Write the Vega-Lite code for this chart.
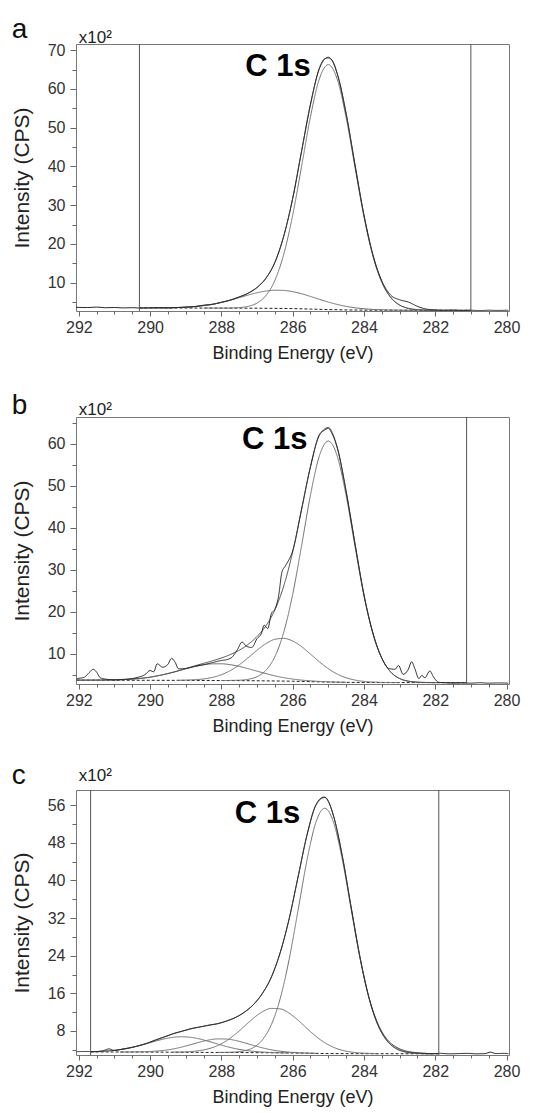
{
"$schema": "https://vega.github.io/schema/vega-lite/v6.json",
"background": "white",
"padding": {"left": 10, "top": 15, "right": 10, "bottom": 5},
"bounds": "flush",
"spacing": 106,
"config": {
 "font": "Liberation Sans",
 "view": {"stroke": "#777", "strokeWidth": 1},
 "axis": {"labelColor": "#333", "titleColor": "#222", "tickColor": "#666", "domain": false, "grid": false, "labelFont": "Liberation Sans", "titleFont": "Liberation Sans", "titleFontWeight": "normal", "labelFontSize": 16, "titleFontSize": 18}
},
"datasets": {
"r": [{"p":"a","x":290.3},{"p":"a","x":281.0},{"p":"b","x":281.12},{"p":"c","x":291.67},{"p":"c","x":281.9}],
"d": [
{"p":"a","s":"bg","x":290.3,"y":3.51},{"p":"a","s":"bg","x":290,"y":3.5},{"p":"a","s":"bg","x":289,"y":3.47},{"p":"a","s":"bg","x":288,"y":3.45},{"p":"a","s":"bg","x":287,"y":3.42},{"p":"a","s":"bg","x":286.5,"y":3.38},{"p":"a","s":"bg","x":286,"y":3.32},{"p":"a","s":"bg","x":285.5,"y":3.2},{"p":"a","s":"bg","x":285,"y":3.07},{"p":"a","s":"bg","x":284.5,"y":2.98},{"p":"a","s":"bg","x":284,"y":2.93},{"p":"a","s":"bg","x":283,"y":2.9},{"p":"a","s":"bg","x":282,"y":2.88},{"p":"a","s":"bg","x":281,"y":2.87},
{"p":"a","s":"c1","x":288.5,"y":3.46},{"p":"a","s":"c1","x":288,"y":3.45},{"p":"a","s":"c1","x":287.75,"y":3.48},{"p":"a","s":"c1","x":287.5,"y":3.58},{"p":"a","s":"c1","x":287.25,"y":3.9},{"p":"a","s":"c1","x":287,"y":4.75},{"p":"a","s":"c1","x":286.75,"y":6.69},{"p":"a","s":"c1","x":286.5,"y":10.6},{"p":"a","s":"c1","x":286.25,"y":17.35},{"p":"a","s":"c1","x":286,"y":27.41},{"p":"a","s":"c1","x":285.75,"y":40.01},{"p":"a","s":"c1","x":285.5,"y":52.86},{"p":"a","s":"c1","x":285.25,"y":62.63},{"p":"a","s":"c1","x":285,"y":66.27},{"p":"a","s":"c1","x":284.75,"y":62.52},{"p":"a","s":"c1","x":284.5,"y":52.64},{"p":"a","s":"c1","x":284.25,"y":39.69},{"p":"a","s":"c1","x":284,"y":27.02},{"p":"a","s":"c1","x":283.75,"y":16.92},{"p":"a","s":"c1","x":283.5,"y":10.13},{"p":"a","s":"c1","x":283.25,"y":6.19},{"p":"a","s":"c1","x":283,"y":4.23},{"p":"a","s":"c1","x":282.75,"y":3.37},{"p":"a","s":"c1","x":282.5,"y":3.04},{"p":"a","s":"c1","x":282.25,"y":2.92},{"p":"a","s":"c1","x":282,"y":2.88},
{"p":"a","s":"c2","x":290,"y":3.52},{"p":"a","s":"c2","x":289.5,"y":3.54},{"p":"a","s":"c2","x":289,"y":3.69},{"p":"a","s":"c2","x":288.75,"y":3.84},{"p":"a","s":"c2","x":288.5,"y":4.1},{"p":"a","s":"c2","x":288.25,"y":4.45},{"p":"a","s":"c2","x":288,"y":4.92},{"p":"a","s":"c2","x":287.75,"y":5.5},{"p":"a","s":"c2","x":287.5,"y":6.15},{"p":"a","s":"c2","x":287.25,"y":6.81},{"p":"a","s":"c2","x":287,"y":7.41},{"p":"a","s":"c2","x":286.75,"y":7.85},{"p":"a","s":"c2","x":286.5,"y":8.06},{"p":"a","s":"c2","x":286.25,"y":8.0},{"p":"a","s":"c2","x":286,"y":7.69},{"p":"a","s":"c2","x":285.75,"y":7.15},{"p":"a","s":"c2","x":285.5,"y":6.46},{"p":"a","s":"c2","x":285.25,"y":5.71},{"p":"a","s":"c2","x":285,"y":5.0},{"p":"a","s":"c2","x":284.75,"y":4.39},{"p":"a","s":"c2","x":284.5,"y":3.89},{"p":"a","s":"c2","x":284.25,"y":3.53},{"p":"a","s":"c2","x":284,"y":3.28},{"p":"a","s":"c2","x":283.75,"y":3.11},{"p":"a","s":"c2","x":283.5,"y":3.01},{"p":"a","s":"c2","x":283,"y":2.92},{"p":"a","s":"c2","x":282.5,"y":2.89},
{"p":"a","s":"env","x":290.3,"y":3.52},{"p":"a","s":"env","x":290,"y":3.52},{"p":"a","s":"env","x":289.5,"y":3.54},{"p":"a","s":"env","x":289,"y":3.69},{"p":"a","s":"env","x":288.75,"y":3.84},{"p":"a","s":"env","x":288.5,"y":4.1},{"p":"a","s":"env","x":288.25,"y":4.45},{"p":"a","s":"env","x":288,"y":4.92},{"p":"a","s":"env","x":287.75,"y":5.54},{"p":"a","s":"env","x":287.5,"y":6.3},{"p":"a","s":"env","x":287.25,"y":7.29},{"p":"a","s":"env","x":287,"y":8.74},{"p":"a","s":"env","x":286.75,"y":11.14},{"p":"a","s":"env","x":286.5,"y":15.28},{"p":"a","s":"env","x":286.25,"y":22.0},{"p":"a","s":"env","x":286,"y":31.78},{"p":"a","s":"env","x":285.75,"y":43.89},{"p":"a","s":"env","x":285.5,"y":56.12},{"p":"a","s":"env","x":285.25,"y":65.21},{"p":"a","s":"env","x":285,"y":68.2},{"p":"a","s":"env","x":284.75,"y":63.89},{"p":"a","s":"env","x":284.5,"y":53.55},{"p":"a","s":"env","x":284.25,"y":40.27},{"p":"a","s":"env","x":284,"y":27.37},{"p":"a","s":"env","x":283.75,"y":17.11},{"p":"a","s":"env","x":283.5,"y":10.23},{"p":"a","s":"env","x":283.25,"y":6.24},{"p":"a","s":"env","x":283,"y":4.25},{"p":"a","s":"env","x":282.75,"y":3.37},{"p":"a","s":"env","x":282.5,"y":3.04},{"p":"a","s":"env","x":282.25,"y":2.92},{"p":"a","s":"env","x":282,"y":2.88},{"p":"a","s":"env","x":281.5,"y":2.87},{"p":"a","s":"env","x":281,"y":2.87},
{"p":"a","s":"raw","x":292.08,"y":3.65},{"p":"a","s":"raw","x":291.75,"y":3.6},{"p":"a","s":"raw","x":291.5,"y":3.7},{"p":"a","s":"raw","x":291.25,"y":3.55},{"p":"a","s":"raw","x":291,"y":3.6},{"p":"a","s":"raw","x":290.75,"y":3.5},{"p":"a","s":"raw","x":290.5,"y":3.55},{"p":"a","s":"raw","x":290.25,"y":3.45},{"p":"a","s":"raw","x":290,"y":3.5},{"p":"a","s":"raw","x":289.75,"y":3.55},{"p":"a","s":"raw","x":289.5,"y":3.5},{"p":"a","s":"raw","x":289.25,"y":3.6},{"p":"a","s":"raw","x":289,"y":3.7},{"p":"a","s":"raw","x":288.75,"y":3.85},{"p":"a","s":"raw","x":288.5,"y":4.2},{"p":"a","s":"raw","x":288.25,"y":4.4},{"p":"a","s":"raw","x":288,"y":4.95},{"p":"a","s":"raw","x":287.75,"y":5.5},{"p":"a","s":"raw","x":287.5,"y":6.35},{"p":"a","s":"raw","x":287.25,"y":7.3},{"p":"a","s":"raw","x":287,"y":8.8},{"p":"a","s":"raw","x":286.75,"y":11.2},{"p":"a","s":"raw","x":286.5,"y":15.2},{"p":"a","s":"raw","x":286.25,"y":22.1},{"p":"a","s":"raw","x":286,"y":31.7},{"p":"a","s":"raw","x":285.75,"y":44.0},{"p":"a","s":"raw","x":285.5,"y":56.0},{"p":"a","s":"raw","x":285.25,"y":65.4},{"p":"a","s":"raw","x":285.1,"y":67.8},{"p":"a","s":"raw","x":285,"y":68.0},{"p":"a","s":"raw","x":284.9,"y":67.5},{"p":"a","s":"raw","x":284.75,"y":64.0},{"p":"a","s":"raw","x":284.5,"y":53.7},{"p":"a","s":"raw","x":284.25,"y":40.4},{"p":"a","s":"raw","x":284,"y":27.5},{"p":"a","s":"raw","x":283.75,"y":17.3},{"p":"a","s":"raw","x":283.5,"y":10.5},{"p":"a","s":"raw","x":283.25,"y":6.8},{"p":"a","s":"raw","x":283,"y":5.6},{"p":"a","s":"raw","x":282.75,"y":5.0},{"p":"a","s":"raw","x":282.5,"y":3.9},{"p":"a","s":"raw","x":282.25,"y":3.2},{"p":"a","s":"raw","x":282,"y":3.0},{"p":"a","s":"raw","x":281.75,"y":2.9},{"p":"a","s":"raw","x":281.5,"y":2.95},{"p":"a","s":"raw","x":281.25,"y":2.85},{"p":"a","s":"raw","x":281,"y":2.9},{"p":"a","s":"raw","x":280.75,"y":2.8},{"p":"a","s":"raw","x":280.5,"y":2.9},{"p":"a","s":"raw","x":280.25,"y":2.85},{"p":"a","s":"raw","x":279.95,"y":2.9},

{"p":"b","s":"bg","x":292.06,"y":3.72},{"p":"b","s":"bg","x":291,"y":3.7},{"p":"b","s":"bg","x":290,"y":3.68},{"p":"b","s":"bg","x":289,"y":3.66},{"p":"b","s":"bg","x":288,"y":3.63},{"p":"b","s":"bg","x":287,"y":3.57},{"p":"b","s":"bg","x":286.5,"y":3.52},{"p":"b","s":"bg","x":286,"y":3.46},{"p":"b","s":"bg","x":285.5,"y":3.37},{"p":"b","s":"bg","x":285,"y":3.27},{"p":"b","s":"bg","x":284.5,"y":3.2},{"p":"b","s":"bg","x":284,"y":3.16},{"p":"b","s":"bg","x":283,"y":3.14},{"p":"b","s":"bg","x":282,"y":3.13},{"p":"b","s":"bg","x":281.12,"y":3.12},
{"p":"b","s":"c1","x":288,"y":3.63},{"p":"b","s":"c1","x":287.75,"y":3.65},{"p":"b","s":"c1","x":287.5,"y":3.7},{"p":"b","s":"c1","x":287.25,"y":3.92},{"p":"b","s":"c1","x":287,"y":4.54},{"p":"b","s":"c1","x":286.75,"y":6.07},{"p":"b","s":"c1","x":286.5,"y":9.3},{"p":"b","s":"c1","x":286.25,"y":15.15},{"p":"b","s":"c1","x":286,"y":24.15},{"p":"b","s":"c1","x":285.75,"y":35.75},{"p":"b","s":"c1","x":285.5,"y":47.84},{"p":"b","s":"c1","x":285.25,"y":57.17},{"p":"b","s":"c1","x":285,"y":60.67},{"p":"b","s":"c1","x":284.75,"y":57.08},{"p":"b","s":"c1","x":284.5,"y":47.67},{"p":"b","s":"c1","x":284.25,"y":35.51},{"p":"b","s":"c1","x":284,"y":23.85},{"p":"b","s":"c1","x":283.75,"y":14.82},{"p":"b","s":"c1","x":283.5,"y":8.93},{"p":"b","s":"c1","x":283.25,"y":5.67},{"p":"b","s":"c1","x":283,"y":4.11},{"p":"b","s":"c1","x":282.75,"y":3.47},{"p":"b","s":"c1","x":282.5,"y":3.23},{"p":"b","s":"c1","x":282.25,"y":3.16},{"p":"b","s":"c1","x":282,"y":3.13},
{"p":"b","s":"c2","x":289.25,"y":3.67},{"p":"b","s":"c2","x":289,"y":3.73},{"p":"b","s":"c2","x":288.75,"y":3.82},{"p":"b","s":"c2","x":288.5,"y":4.01},{"p":"b","s":"c2","x":288.25,"y":4.37},{"p":"b","s":"c2","x":288,"y":5.01},{"p":"b","s":"c2","x":287.75,"y":6.0},{"p":"b","s":"c2","x":287.5,"y":7.36},{"p":"b","s":"c2","x":287.25,"y":9.05},{"p":"b","s":"c2","x":287,"y":10.84},{"p":"b","s":"c2","x":286.75,"y":12.42},{"p":"b","s":"c2","x":286.5,"y":13.44},{"p":"b","s":"c2","x":286.25,"y":13.67},{"p":"b","s":"c2","x":286,"y":13.04},{"p":"b","s":"c2","x":285.75,"y":11.69},{"p":"b","s":"c2","x":285.5,"y":9.92},{"p":"b","s":"c2","x":285.25,"y":8.08},{"p":"b","s":"c2","x":285,"y":6.44},{"p":"b","s":"c2","x":284.75,"y":5.16},{"p":"b","s":"c2","x":284.5,"y":4.28},{"p":"b","s":"c2","x":284.25,"y":3.74},{"p":"b","s":"c2","x":284,"y":3.42},{"p":"b","s":"c2","x":283.75,"y":3.27},{"p":"b","s":"c2","x":283.5,"y":3.19},{"p":"b","s":"c2","x":283,"y":3.14},
{"p":"b","s":"c3","x":292.06,"y":3.72},{"p":"b","s":"c3","x":291.5,"y":3.73},{"p":"b","s":"c3","x":291,"y":3.78},{"p":"b","s":"c3","x":290.5,"y":3.97},{"p":"b","s":"c3","x":290.25,"y":4.16},{"p":"b","s":"c3","x":290,"y":4.43},{"p":"b","s":"c3","x":289.75,"y":4.82},{"p":"b","s":"c3","x":289.5,"y":5.29},{"p":"b","s":"c3","x":289.25,"y":5.84},{"p":"b","s":"c3","x":289,"y":6.41},{"p":"b","s":"c3","x":288.75,"y":6.95},{"p":"b","s":"c3","x":288.5,"y":7.36},{"p":"b","s":"c3","x":288.25,"y":7.6},{"p":"b","s":"c3","x":288,"y":7.61},{"p":"b","s":"c3","x":287.75,"y":7.4},{"p":"b","s":"c3","x":287.5,"y":6.99},{"p":"b","s":"c3","x":287.25,"y":6.45},{"p":"b","s":"c3","x":287,"y":5.86},{"p":"b","s":"c3","x":286.75,"y":5.27},{"p":"b","s":"c3","x":286.5,"y":4.74},{"p":"b","s":"c3","x":286.25,"y":4.31},{"p":"b","s":"c3","x":286,"y":3.98},{"p":"b","s":"c3","x":285.75,"y":3.73},{"p":"b","s":"c3","x":285.5,"y":3.55},{"p":"b","s":"c3","x":285.25,"y":3.41},{"p":"b","s":"c3","x":285,"y":3.32},{"p":"b","s":"c3","x":284.5,"y":3.2},
{"p":"b","s":"env","x":292.06,"y":3.72},{"p":"b","s":"env","x":291.5,"y":3.73},{"p":"b","s":"env","x":291,"y":3.78},{"p":"b","s":"env","x":290.5,"y":3.97},{"p":"b","s":"env","x":290.25,"y":4.16},{"p":"b","s":"env","x":290,"y":4.43},{"p":"b","s":"env","x":289.75,"y":4.82},{"p":"b","s":"env","x":289.5,"y":5.29},{"p":"b","s":"env","x":289.25,"y":5.84},{"p":"b","s":"env","x":289,"y":6.48},{"p":"b","s":"env","x":288.75,"y":7.11},{"p":"b","s":"env","x":288.5,"y":7.72},{"p":"b","s":"env","x":288.25,"y":8.33},{"p":"b","s":"env","x":288,"y":8.99},{"p":"b","s":"env","x":287.75,"y":9.81},{"p":"b","s":"env","x":287.5,"y":10.85},{"p":"b","s":"env","x":287.25,"y":12.24},{"p":"b","s":"env","x":287,"y":14.1},{"p":"b","s":"env","x":286.75,"y":16.66},{"p":"b","s":"env","x":286.5,"y":20.44},{"p":"b","s":"env","x":286.25,"y":26.15},{"p":"b","s":"env","x":286,"y":34.25},{"p":"b","s":"env","x":285.75,"y":44.33},{"p":"b","s":"env","x":285.5,"y":54.57},{"p":"b","s":"env","x":285.25,"y":62.02},{"p":"b","s":"env","x":285,"y":63.89},{"p":"b","s":"env","x":284.75,"y":59.03},{"p":"b","s":"env","x":284.5,"y":48.75},{"p":"b","s":"env","x":284.25,"y":36.07},{"p":"b","s":"env","x":284,"y":24.11},{"p":"b","s":"env","x":283.75,"y":14.93},{"p":"b","s":"env","x":283.5,"y":8.97},{"p":"b","s":"env","x":283.25,"y":5.67},{"p":"b","s":"env","x":283,"y":4.11},{"p":"b","s":"env","x":282.75,"y":3.47},{"p":"b","s":"env","x":282.5,"y":3.23},{"p":"b","s":"env","x":282.25,"y":3.16},{"p":"b","s":"env","x":282,"y":3.13},{"p":"b","s":"env","x":281.5,"y":3.12},{"p":"b","s":"env","x":281.12,"y":3.12},
{"p":"b","s":"raw","x":292.06,"y":4.1},{"p":"b","s":"raw","x":291.85,"y":4.4},{"p":"b","s":"raw","x":291.7,"y":5.6},{"p":"b","s":"raw","x":291.6,"y":6.3},{"p":"b","s":"raw","x":291.5,"y":5.6},{"p":"b","s":"raw","x":291.4,"y":4.3},{"p":"b","s":"raw","x":291.2,"y":3.9},{"p":"b","s":"raw","x":291,"y":3.8},{"p":"b","s":"raw","x":290.75,"y":3.9},{"p":"b","s":"raw","x":290.5,"y":4.1},{"p":"b","s":"raw","x":290.3,"y":4.5},{"p":"b","s":"raw","x":290.15,"y":5.0},{"p":"b","s":"raw","x":290.0,"y":6.0},{"p":"b","s":"raw","x":289.9,"y":5.7},{"p":"b","s":"raw","x":289.8,"y":7.6},{"p":"b","s":"raw","x":289.65,"y":6.8},{"p":"b","s":"raw","x":289.5,"y":7.5},{"p":"b","s":"raw","x":289.4,"y":8.9},{"p":"b","s":"raw","x":289.3,"y":8.0},{"p":"b","s":"raw","x":289.2,"y":6.4},{"p":"b","s":"raw","x":289.0,"y":6.5},{"p":"b","s":"raw","x":288.75,"y":7.0},{"p":"b","s":"raw","x":288.5,"y":7.4},{"p":"b","s":"raw","x":288.25,"y":7.9},{"p":"b","s":"raw","x":288.0,"y":8.4},{"p":"b","s":"raw","x":287.85,"y":8.6},{"p":"b","s":"raw","x":287.7,"y":9.2},{"p":"b","s":"raw","x":287.55,"y":11.0},{"p":"b","s":"raw","x":287.42,"y":12.8},{"p":"b","s":"raw","x":287.3,"y":11.8},{"p":"b","s":"raw","x":287.15,"y":11.5},{"p":"b","s":"raw","x":287.0,"y":13.6},{"p":"b","s":"raw","x":286.88,"y":14.8},{"p":"b","s":"raw","x":286.8,"y":16.8},{"p":"b","s":"raw","x":286.7,"y":16.0},{"p":"b","s":"raw","x":286.6,"y":19.5},{"p":"b","s":"raw","x":286.5,"y":20.6},{"p":"b","s":"raw","x":286.4,"y":23.5},{"p":"b","s":"raw","x":286.3,"y":29.5},{"p":"b","s":"raw","x":286.2,"y":31.0},{"p":"b","s":"raw","x":286,"y":34.5},{"p":"b","s":"raw","x":285.75,"y":44.5},{"p":"b","s":"raw","x":285.5,"y":54.6},{"p":"b","s":"raw","x":285.25,"y":62.2},{"p":"b","s":"raw","x":285.1,"y":63.3},{"p":"b","s":"raw","x":285,"y":63.7},{"p":"b","s":"raw","x":284.9,"y":62.5},{"p":"b","s":"raw","x":284.75,"y":59.2},{"p":"b","s":"raw","x":284.5,"y":48.6},{"p":"b","s":"raw","x":284.25,"y":36.2},{"p":"b","s":"raw","x":284,"y":24.0},{"p":"b","s":"raw","x":283.75,"y":15.0},{"p":"b","s":"raw","x":283.5,"y":9.0},{"p":"b","s":"raw","x":283.3,"y":6.5},{"p":"b","s":"raw","x":283.13,"y":6.3},{"p":"b","s":"raw","x":283.03,"y":7.2},{"p":"b","s":"raw","x":282.9,"y":5.1},{"p":"b","s":"raw","x":282.76,"y":6.2},{"p":"b","s":"raw","x":282.66,"y":8.1},{"p":"b","s":"raw","x":282.57,"y":6.4},{"p":"b","s":"raw","x":282.46,"y":4.1},{"p":"b","s":"raw","x":282.38,"y":4.8},{"p":"b","s":"raw","x":282.29,"y":4.3},{"p":"b","s":"raw","x":282.15,"y":5.9},{"p":"b","s":"raw","x":282.05,"y":4.5},{"p":"b","s":"raw","x":281.9,"y":3.2},{"p":"b","s":"raw","x":281.7,"y":3.1},{"p":"b","s":"raw","x":281.5,"y":3.0},{"p":"b","s":"raw","x":281.25,"y":3.05},{"p":"b","s":"raw","x":281,"y":3.0},{"p":"b","s":"raw","x":280.75,"y":3.1},{"p":"b","s":"raw","x":280.5,"y":3.0},{"p":"b","s":"raw","x":280.25,"y":3.05},{"p":"b","s":"raw","x":279.95,"y":3.0},

{"p":"c","s":"bg","x":291.67,"y":3.55},{"p":"c","s":"bg","x":291,"y":3.54},{"p":"c","s":"bg","x":290,"y":3.52},{"p":"c","s":"bg","x":289,"y":3.48},{"p":"c","s":"bg","x":288,"y":3.44},{"p":"c","s":"bg","x":287,"y":3.4},{"p":"c","s":"bg","x":286.5,"y":3.36},{"p":"c","s":"bg","x":286,"y":3.32},{"p":"c","s":"bg","x":285.5,"y":3.27},{"p":"c","s":"bg","x":285,"y":3.21},{"p":"c","s":"bg","x":284.5,"y":3.19},{"p":"c","s":"bg","x":284,"y":3.18},{"p":"c","s":"bg","x":283,"y":3.17},{"p":"c","s":"bg","x":281.9,"y":3.16},
{"p":"c","s":"c1","x":288.1,"y":3.45},{"p":"c","s":"c1","x":287.85,"y":3.47},{"p":"c","s":"c1","x":287.6,"y":3.55},{"p":"c","s":"c1","x":287.35,"y":3.8},{"p":"c","s":"c1","x":287.1,"y":4.5},{"p":"c","s":"c1","x":286.85,"y":6.1},{"p":"c","s":"c1","x":286.6,"y":9.32},{"p":"c","s":"c1","x":286.35,"y":14.89},{"p":"c","s":"c1","x":286.1,"y":23.19},{"p":"c","s":"c1","x":285.85,"y":33.6},{"p":"c","s":"c1","x":285.6,"y":44.22},{"p":"c","s":"c1","x":285.35,"y":52.3},{"p":"c","s":"c1","x":285.1,"y":55.32},{"p":"c","s":"c1","x":284.85,"y":52.25},{"p":"c","s":"c1","x":284.6,"y":44.13},{"p":"c","s":"c1","x":284.35,"y":33.48},{"p":"c","s":"c1","x":284.1,"y":23.04},{"p":"c","s":"c1","x":283.85,"y":14.72},{"p":"c","s":"c1","x":283.6,"y":9.12},{"p":"c","s":"c1","x":283.35,"y":5.88},{"p":"c","s":"c1","x":283.1,"y":4.27},{"p":"c","s":"c1","x":282.85,"y":3.56},{"p":"c","s":"c1","x":282.6,"y":3.3},{"p":"c","s":"c1","x":282.35,"y":3.2},{"p":"c","s":"c1","x":282.1,"y":3.16},
{"p":"c","s":"c2","x":289.35,"y":3.52},{"p":"c","s":"c2","x":289.1,"y":3.55},{"p":"c","s":"c2","x":288.85,"y":3.64},{"p":"c","s":"c2","x":288.6,"y":3.85},{"p":"c","s":"c2","x":288.35,"y":4.24},{"p":"c","s":"c2","x":288.1,"y":4.92},{"p":"c","s":"c2","x":287.85,"y":5.96},{"p":"c","s":"c2","x":287.6,"y":7.37},{"p":"c","s":"c2","x":287.35,"y":9.03},{"p":"c","s":"c2","x":287.1,"y":10.72},{"p":"c","s":"c2","x":286.85,"y":12.08},{"p":"c","s":"c2","x":286.6,"y":12.8},{"p":"c","s":"c2","x":286.35,"y":12.7},{"p":"c","s":"c2","x":286.1,"y":11.79},{"p":"c","s":"c2","x":285.85,"y":10.3},{"p":"c","s":"c2","x":285.6,"y":8.56},{"p":"c","s":"c2","x":285.35,"y":6.89},{"p":"c","s":"c2","x":285.1,"y":5.51},{"p":"c","s":"c2","x":284.85,"y":4.52},{"p":"c","s":"c2","x":284.6,"y":3.88},{"p":"c","s":"c2","x":284.35,"y":3.52},{"p":"c","s":"c2","x":284.1,"y":3.33},{"p":"c","s":"c2","x":283.85,"y":3.24},{"p":"c","s":"c2","x":283.6,"y":3.17},
{"p":"c","s":"c3","x":290.85,"y":3.54},{"p":"c","s":"c3","x":290.6,"y":3.54},{"p":"c","s":"c3","x":290.35,"y":3.57},{"p":"c","s":"c3","x":290.1,"y":3.61},{"p":"c","s":"c3","x":289.85,"y":3.71},{"p":"c","s":"c3","x":289.6,"y":3.89},{"p":"c","s":"c3","x":289.35,"y":4.19},{"p":"c","s":"c3","x":289.1,"y":4.61},{"p":"c","s":"c3","x":288.85,"y":5.12},{"p":"c","s":"c3","x":288.6,"y":5.65},{"p":"c","s":"c3","x":288.35,"y":6.09},{"p":"c","s":"c3","x":288.1,"y":6.32},{"p":"c","s":"c3","x":287.85,"y":6.28},{"p":"c","s":"c3","x":287.6,"y":5.98},{"p":"c","s":"c3","x":287.35,"y":5.49},{"p":"c","s":"c3","x":287.1,"y":4.94},{"p":"c","s":"c3","x":286.85,"y":4.42},{"p":"c","s":"c3","x":286.6,"y":4.0},{"p":"c","s":"c3","x":286.35,"y":3.7},{"p":"c","s":"c3","x":286.1,"y":3.5},{"p":"c","s":"c3","x":285.85,"y":3.39},{"p":"c","s":"c3","x":285.6,"y":3.31},{"p":"c","s":"c3","x":285.35,"y":3.25},
{"p":"c","s":"c4","x":291.6,"y":3.62},{"p":"c","s":"c4","x":291.35,"y":3.69},{"p":"c","s":"c4","x":291.1,"y":3.82},{"p":"c","s":"c4","x":290.85,"y":4.04},{"p":"c","s":"c4","x":290.6,"y":4.35},{"p":"c","s":"c4","x":290.35,"y":4.79},{"p":"c","s":"c4","x":290.1,"y":5.3},{"p":"c","s":"c4","x":289.85,"y":5.84},{"p":"c","s":"c4","x":289.6,"y":6.33},{"p":"c","s":"c4","x":289.35,"y":6.66},{"p":"c","s":"c4","x":289.1,"y":6.78},{"p":"c","s":"c4","x":288.85,"y":6.64},{"p":"c","s":"c4","x":288.6,"y":6.29},{"p":"c","s":"c4","x":288.35,"y":5.78},{"p":"c","s":"c4","x":288.1,"y":5.22},{"p":"c","s":"c4","x":287.85,"y":4.69},{"p":"c","s":"c4","x":287.6,"y":4.24},{"p":"c","s":"c4","x":287.35,"y":3.91},{"p":"c","s":"c4","x":287.1,"y":3.68},{"p":"c","s":"c4","x":286.85,"y":3.53},{"p":"c","s":"c4","x":286.6,"y":3.44},{"p":"c","s":"c4","x":286.35,"y":3.38},{"p":"c","s":"c4","x":286.1,"y":3.33},
{"p":"c","s":"env","x":291.67,"y":3.6},{"p":"c","s":"env","x":291.6,"y":3.62},{"p":"c","s":"env","x":291.35,"y":3.69},{"p":"c","s":"env","x":291.1,"y":3.82},{"p":"c","s":"env","x":290.85,"y":4.04},{"p":"c","s":"env","x":290.6,"y":4.36},{"p":"c","s":"env","x":290.35,"y":4.83},{"p":"c","s":"env","x":290.1,"y":5.39},{"p":"c","s":"env","x":289.85,"y":6.04},{"p":"c","s":"env","x":289.6,"y":6.73},{"p":"c","s":"env","x":289.35,"y":7.39},{"p":"c","s":"env","x":289.1,"y":7.98},{"p":"c","s":"env","x":288.85,"y":8.46},{"p":"c","s":"env","x":288.6,"y":8.87},{"p":"c","s":"env","x":288.35,"y":9.21},{"p":"c","s":"env","x":288.1,"y":9.59},{"p":"c","s":"env","x":287.85,"y":10.11},{"p":"c","s":"env","x":287.6,"y":10.88},{"p":"c","s":"env","x":287.35,"y":12.0},{"p":"c","s":"env","x":287.1,"y":13.64},{"p":"c","s":"env","x":286.85,"y":15.96},{"p":"c","s":"env","x":286.6,"y":19.45},{"p":"c","s":"env","x":286.35,"y":24.62},{"p":"c","s":"env","x":286.1,"y":31.82},{"p":"c","s":"env","x":285.85,"y":40.67},{"p":"c","s":"env","x":285.6,"y":49.53},{"p":"c","s":"env","x":285.35,"y":55.94},{"p":"c","s":"env","x":285.1,"y":57.61},{"p":"c","s":"env","x":284.85,"y":53.57},{"p":"c","s":"env","x":284.6,"y":44.82},{"p":"c","s":"env","x":284.35,"y":33.81},{"p":"c","s":"env","x":284.1,"y":23.19},{"p":"c","s":"env","x":283.85,"y":14.78},{"p":"c","s":"env","x":283.6,"y":9.12},{"p":"c","s":"env","x":283.35,"y":5.88},{"p":"c","s":"env","x":283.1,"y":4.27},{"p":"c","s":"env","x":282.85,"y":3.56},{"p":"c","s":"env","x":282.6,"y":3.3},{"p":"c","s":"env","x":282.35,"y":3.2},{"p":"c","s":"env","x":282.1,"y":3.16},{"p":"c","s":"env","x":281.9,"y":3.16},
{"p":"c","s":"raw","x":292.06,"y":3.6},{"p":"c","s":"raw","x":291.8,"y":3.65},{"p":"c","s":"raw","x":291.6,"y":3.6},{"p":"c","s":"raw","x":291.35,"y":3.75},{"p":"c","s":"raw","x":291.15,"y":4.2},{"p":"c","s":"raw","x":291.0,"y":3.85},{"p":"c","s":"raw","x":290.85,"y":4.05},{"p":"c","s":"raw","x":290.6,"y":4.4},{"p":"c","s":"raw","x":290.35,"y":4.8},{"p":"c","s":"raw","x":290.1,"y":5.35},{"p":"c","s":"raw","x":289.85,"y":6.1},{"p":"c","s":"raw","x":289.6,"y":6.75},{"p":"c","s":"raw","x":289.35,"y":7.45},{"p":"c","s":"raw","x":289.1,"y":7.95},{"p":"c","s":"raw","x":288.85,"y":8.5},{"p":"c","s":"raw","x":288.6,"y":8.85},{"p":"c","s":"raw","x":288.35,"y":9.25},{"p":"c","s":"raw","x":288.1,"y":9.55},{"p":"c","s":"raw","x":287.85,"y":10.15},{"p":"c","s":"raw","x":287.6,"y":10.9},{"p":"c","s":"raw","x":287.35,"y":12.05},{"p":"c","s":"raw","x":287.1,"y":13.6},{"p":"c","s":"raw","x":286.85,"y":16.0},{"p":"c","s":"raw","x":286.6,"y":19.4},{"p":"c","s":"raw","x":286.35,"y":24.7},{"p":"c","s":"raw","x":286.1,"y":31.8},{"p":"c","s":"raw","x":285.85,"y":40.7},{"p":"c","s":"raw","x":285.6,"y":49.6},{"p":"c","s":"raw","x":285.35,"y":56.0},{"p":"c","s":"raw","x":285.2,"y":57.5},{"p":"c","s":"raw","x":285.1,"y":57.7},{"p":"c","s":"raw","x":285.0,"y":56.8},{"p":"c","s":"raw","x":284.85,"y":53.6},{"p":"c","s":"raw","x":284.6,"y":44.9},{"p":"c","s":"raw","x":284.35,"y":33.9},{"p":"c","s":"raw","x":284.1,"y":23.3},{"p":"c","s":"raw","x":283.85,"y":14.9},{"p":"c","s":"raw","x":283.6,"y":9.4},{"p":"c","s":"raw","x":283.35,"y":6.2},{"p":"c","s":"raw","x":283.1,"y":4.6},{"p":"c","s":"raw","x":282.85,"y":3.8},{"p":"c","s":"raw","x":282.6,"y":3.45},{"p":"c","s":"raw","x":282.35,"y":3.3},{"p":"c","s":"raw","x":282.1,"y":3.2},{"p":"c","s":"raw","x":281.85,"y":3.25},{"p":"c","s":"raw","x":281.6,"y":3.15},{"p":"c","s":"raw","x":281.35,"y":3.2},{"p":"c","s":"raw","x":281.1,"y":3.25},{"p":"c","s":"raw","x":280.85,"y":3.15},{"p":"c","s":"raw","x":280.6,"y":3.2},{"p":"c","s":"raw","x":280.45,"y":3.5},{"p":"c","s":"raw","x":280.3,"y":3.2},{"p":"c","s":"raw","x":280.1,"y":3.25},{"p":"c","s":"raw","x":279.95,"y":3.2}
]
},
"vconcat": [
{
 "width": 433, "height": 267,
 "layer": [
  {"data": {"name": "d"}, "transform": [{"filter": "datum.p === 'a'"}],
   "mark": {"type": "line", "interpolate": "monotone", "strokeWidth": 1, "clip": true},
   "encoding": {
    "x": {"field": "x", "type": "quantitative", "scale": {"domain": [279.93, 292.08], "reverse": true, "nice": false, "zero": false},
          "axis": {"orient": "bottom", "values": [280,282,284,286,288,290,292], "format": "d", "tickSize": 5, "labelPadding": 3, "title": "Binding Energy (eV)", "titlePadding": 9}},
    "y": {"field": "y", "type": "quantitative", "scale": {"domain": [2.7, 71.6], "nice": false, "zero": false},
          "axis": {"orient": "left", "values": [10,20,30,40,50,60,70], "tickSize": 6, "labelPadding": 5, "title": "Intensity (CPS)", "titleFontSize": 21, "titlePadding": 15}},
    "color": {"field": "s", "scale": {"domain": ["bg","c1","c2","c3","c4","env","raw"], "range": ["#222222","#707070","#707070","#707070","#707070","#4d4d4d","#262626"]}, "legend": null},
    "strokeDash": {"field": "s", "scale": {"domain": ["bg","c1","c2","c3","c4","env","raw"], "range": [[3,2],[1,0],[1,0],[1,0],[1,0],[1,0],[1,0]]}, "legend": null}
   }},
  {"data": {"name": "r"}, "transform": [{"filter": "datum.p === 'a'"}],
   "mark": {"type": "rule", "color": "#555", "strokeWidth": 1},
   "encoding": {"x": {"field": "x", "type": "quantitative", "scale": {"domain": [279.93, 292.08], "reverse": true, "nice": false, "zero": false},
     "axis": {"orient": "bottom", "values": [280.5,281,281.5,282.5,283,283.5,284.5,285,285.5,286.5,287,287.5,288.5,289,289.5,290.5,291,291.5], "tickSize": 3, "labels": false, "title": null}}}},
  {"data": {"values": [{}]},
   "mark": {"type": "text", "text": "C 1s", "fontSize": 31, "fontWeight": "bold", "align": "center", "baseline": "alphabetic", "color": "#000"},
   "encoding": {"x": {"datum": 286.41, "type": "quantitative", "scale": {"domain": [279.93, 292.08], "reverse": true, "nice": false, "zero": false}, "axis": null},
    "y": {"datum": 63.4, "type": "quantitative", "scale": {"domain": [2.7, 71.6], "nice": false, "zero": false},
     "axis": {"orient": "left", "values": [5,15,25,35,45,55,65], "tickSize": 4, "labels": false, "title": null}}}},
  {"data": {"values": [{}]},
   "mark": {"type": "text", "text": "x10²", "fontSize": 17, "align": "left", "baseline": "alphabetic", "color": "#222", "clip": false},
   "encoding": {"x": {"datum": 292.0, "type": "quantitative", "scale": {"domain": [279.93, 292.08], "reverse": true, "nice": false, "zero": false}, "axis": null},
    "y": {"datum": 71.95, "type": "quantitative", "scale": {"domain": [2.7, 71.6], "nice": false, "zero": false}, "axis": null}}},
  {"data": {"values": [{}]},
   "mark": {"type": "text", "text": "a", "fontSize": 28, "align": "left", "baseline": "alphabetic", "color": "#111", "clip": false},
   "encoding": {"x": {"datum": 293.88, "type": "quantitative", "scale": {"domain": [279.93, 292.08], "reverse": true, "nice": false, "zero": false}, "axis": null},
    "y": {"datum": 73.18, "type": "quantitative", "scale": {"domain": [2.7, 71.6], "nice": false, "zero": false}, "axis": null}}}
 ],
 "resolve": {"axis": {"x": "independent", "y": "independent"}}
},
{
 "width": 433, "height": 267,
 "layer": [
  {"data": {"name": "d"}, "transform": [{"filter": "datum.p === 'b'"}],
   "mark": {"type": "line", "interpolate": "monotone", "strokeWidth": 1, "clip": true},
   "encoding": {
    "x": {"field": "x", "type": "quantitative", "scale": {"domain": [279.93, 292.08], "reverse": true, "nice": false, "zero": false},
          "axis": {"orient": "bottom", "values": [280,282,284,286,288,290,292], "format": "d", "tickSize": 5, "labelPadding": 3, "title": "Binding Energy (eV)", "titlePadding": 9}},
    "y": {"field": "y", "type": "quantitative", "scale": {"domain": [2.8, 66.4], "nice": false, "zero": false},
          "axis": {"orient": "left", "values": [10,20,30,40,50,60], "tickSize": 6, "labelPadding": 5, "title": "Intensity (CPS)", "titleFontSize": 21, "titlePadding": 15}},
    "color": {"field": "s", "scale": {"domain": ["bg","c1","c2","c3","c4","env","raw"], "range": ["#222222","#707070","#707070","#707070","#707070","#4d4d4d","#262626"]}, "legend": null},
    "strokeDash": {"field": "s", "scale": {"domain": ["bg","c1","c2","c3","c4","env","raw"], "range": [[3,2],[1,0],[1,0],[1,0],[1,0],[1,0],[1,0]]}, "legend": null}
   }},
  {"data": {"name": "r"}, "transform": [{"filter": "datum.p === 'b'"}],
   "mark": {"type": "rule", "color": "#555", "strokeWidth": 1},
   "encoding": {"x": {"field": "x", "type": "quantitative", "scale": {"domain": [279.93, 292.08], "reverse": true, "nice": false, "zero": false},
     "axis": {"orient": "bottom", "values": [280.5,281,281.5,282.5,283,283.5,284.5,285,285.5,286.5,287,287.5,288.5,289,289.5,290.5,291,291.5], "tickSize": 3, "labels": false, "title": null}}}},
  {"data": {"values": [{}]},
   "mark": {"type": "text", "text": "C 1s", "fontSize": 31, "fontWeight": "bold", "align": "center", "baseline": "alphabetic", "color": "#000"},
   "encoding": {"x": {"datum": 286.5, "type": "quantitative", "scale": {"domain": [279.93, 292.08], "reverse": true, "nice": false, "zero": false}, "axis": null},
    "y": {"datum": 58.7, "type": "quantitative", "scale": {"domain": [2.8, 66.4], "nice": false, "zero": false},
     "axis": {"orient": "left", "values": [5,15,25,35,45,55,65], "tickSize": 4, "labels": false, "title": null}}}},
  {"data": {"values": [{}]},
   "mark": {"type": "text", "text": "x10²", "fontSize": 17, "align": "left", "baseline": "alphabetic", "color": "#222", "clip": false},
   "encoding": {"x": {"datum": 292.0, "type": "quantitative", "scale": {"domain": [279.93, 292.08], "reverse": true, "nice": false, "zero": false}, "axis": null},
    "y": {"datum": 66.95, "type": "quantitative", "scale": {"domain": [2.8, 66.4], "nice": false, "zero": false}, "axis": null}}},
  {"data": {"values": [{}]},
   "mark": {"type": "text", "text": "b", "fontSize": 28, "align": "left", "baseline": "alphabetic", "color": "#111", "clip": false},
   "encoding": {"x": {"datum": 293.88, "type": "quantitative", "scale": {"domain": [279.93, 292.08], "reverse": true, "nice": false, "zero": false}, "axis": null},
    "y": {"datum": 67.15, "type": "quantitative", "scale": {"domain": [2.8, 66.4], "nice": false, "zero": false}, "axis": null}}}
 ],
 "resolve": {"axis": {"x": "independent", "y": "independent"}}
},
{
 "width": 433, "height": 265,
 "layer": [
  {"data": {"name": "d"}, "transform": [{"filter": "datum.p === 'c'"}],
   "mark": {"type": "line", "interpolate": "monotone", "strokeWidth": 1, "clip": true},
   "encoding": {
    "x": {"field": "x", "type": "quantitative", "scale": {"domain": [279.93, 292.08], "reverse": true, "nice": false, "zero": false},
          "axis": {"orient": "bottom", "values": [280,282,284,286,288,290,292], "format": "d", "tickSize": 5, "labelPadding": 3, "title": "Binding Energy (eV)", "titlePadding": 9}},
    "y": {"field": "y", "type": "quantitative", "scale": {"domain": [2.9, 59.2], "nice": false, "zero": false},
          "axis": {"orient": "left", "values": [8,16,24,32,40,48,56], "tickSize": 6, "labelPadding": 5, "title": "Intensity (CPS)", "titleFontSize": 21, "titlePadding": 15}},
    "color": {"field": "s", "scale": {"domain": ["bg","c1","c2","c3","c4","env","raw"], "range": ["#222222","#707070","#707070","#707070","#707070","#4d4d4d","#262626"]}, "legend": null},
    "strokeDash": {"field": "s", "scale": {"domain": ["bg","c1","c2","c3","c4","env","raw"], "range": [[3,2],[1,0],[1,0],[1,0],[1,0],[1,0],[1,0]]}, "legend": null}
   }},
  {"data": {"name": "r"}, "transform": [{"filter": "datum.p === 'c'"}],
   "mark": {"type": "rule", "color": "#555", "strokeWidth": 1},
   "encoding": {"x": {"field": "x", "type": "quantitative", "scale": {"domain": [279.93, 292.08], "reverse": true, "nice": false, "zero": false},
     "axis": {"orient": "bottom", "values": [280.5,281,281.5,282.5,283,283.5,284.5,285,285.5,286.5,287,287.5,288.5,289,289.5,290.5,291,291.5], "tickSize": 3, "labels": false, "title": null}}}},
  {"data": {"values": [{}]},
   "mark": {"type": "text", "text": "C 1s", "fontSize": 31, "fontWeight": "bold", "align": "center", "baseline": "alphabetic", "color": "#000"},
   "encoding": {"x": {"datum": 286.71, "type": "quantitative", "scale": {"domain": [279.93, 292.08], "reverse": true, "nice": false, "zero": false}, "axis": null},
    "y": {"datum": 52.2, "type": "quantitative", "scale": {"domain": [2.9, 59.2], "nice": false, "zero": false},
     "axis": {"orient": "left", "values": [4,12,20,28,36,44,52], "tickSize": 4, "labels": false, "title": null}}}},
  {"data": {"values": [{}]},
   "mark": {"type": "text", "text": "x10²", "fontSize": 17, "align": "left", "baseline": "alphabetic", "color": "#222", "clip": false},
   "encoding": {"x": {"datum": 292.0, "type": "quantitative", "scale": {"domain": [279.93, 292.08], "reverse": true, "nice": false, "zero": false}, "axis": null},
    "y": {"datum": 61.1, "type": "quantitative", "scale": {"domain": [2.9, 59.2], "nice": false, "zero": false}, "axis": null}}},
  {"data": {"values": [{}]},
   "mark": {"type": "text", "text": "c", "fontSize": 28, "align": "left", "baseline": "alphabetic", "color": "#111", "clip": false},
   "encoding": {"x": {"datum": 293.88, "type": "quantitative", "scale": {"domain": [279.93, 292.08], "reverse": true, "nice": false, "zero": false}, "axis": null},
    "y": {"datum": 60.5, "type": "quantitative", "scale": {"domain": [2.9, 59.2], "nice": false, "zero": false}, "axis": null}}}
 ],
 "resolve": {"axis": {"x": "independent", "y": "independent"}}
}
]
}
